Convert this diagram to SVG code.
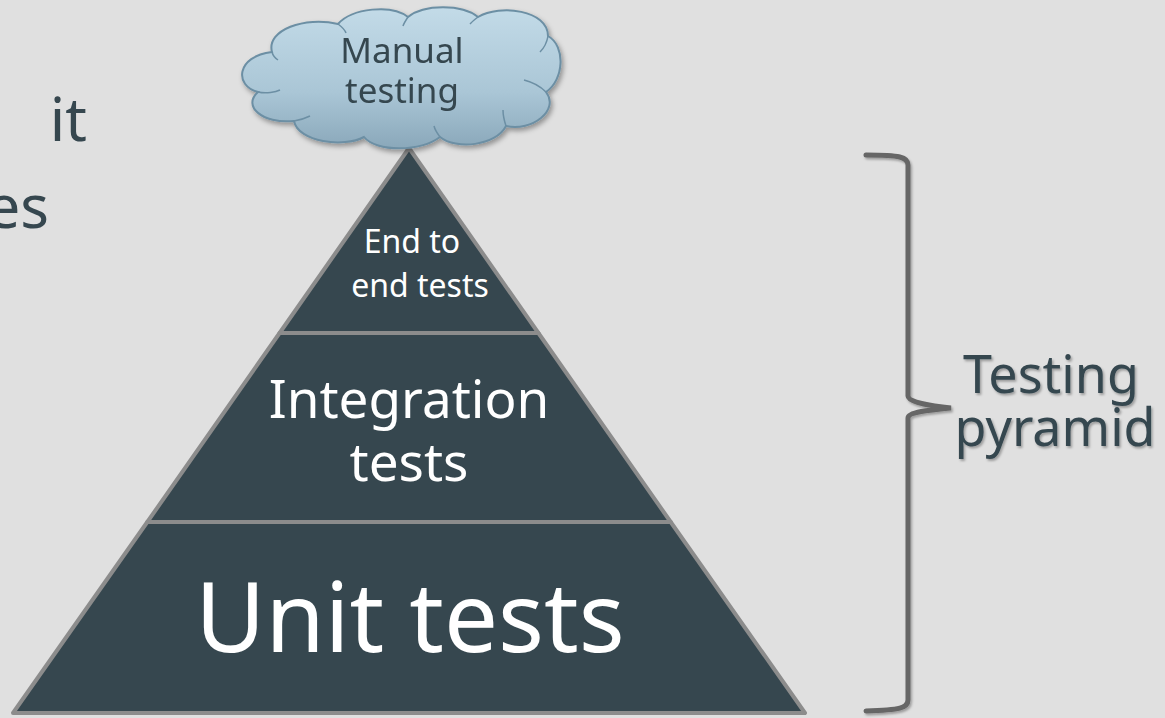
<svg xmlns="http://www.w3.org/2000/svg" width="1165" height="718" viewBox="0 0 1165 718">
<defs>
<linearGradient id="cloudGrad" x1="0" y1="0" x2="0" y2="1">
<stop offset="0" stop-color="#c3dbe8"/>
<stop offset="0.6" stop-color="#aac6d6"/>
<stop offset="1" stop-color="#8aa8ba"/>
</linearGradient>
<filter id="shadow" x="-20%" y="-20%" width="140%" height="140%">
<feDropShadow dx="2" dy="3" stdDeviation="2.5" flood-color="#000" flood-opacity="0.35"/>
</filter>
<filter id="tshadow" x="-10%" y="-10%" width="120%" height="130%">
<feDropShadow dx="1.5" dy="2" stdDeviation="1.2" flood-color="#000" flood-opacity="0.3"/>
</filter>
</defs>
<style>
.layer{fill:#36474f;stroke:#8c8c8c;stroke-width:4;stroke-linejoin:round}
.wt{fill:#ffffff;font-family:"Noto Sans","Open Sans",sans-serif;text-anchor:middle}
.dt{fill:#36474f;font-family:"Noto Sans","Open Sans",sans-serif}
.crease{fill:none;stroke:#6c8fa4;stroke-width:1.5}
</style>
<rect x="0" y="0" width="1165" height="718" fill="#e0e0e0"/>

<g id="side-text">
<text class="dt" x="87" y="141" font-size="60" text-anchor="end">it</text>
<text class="dt" x="49" y="228" font-size="60" text-anchor="end">es</text>
</g>

<g id="unit-tests">
<polygon class="layer" points="147.3,522 670.7,522 805,713 13,713"/>
<text class="wt" x="410" y="652" font-size="96">Unit tests</text>
</g>

<g id="integration-tests">
<polygon class="layer" points="279.6,333 538.4,333 670.7,522 147.3,522"/>
<text class="wt" x="409" y="418" font-size="53">Integration</text>
<text class="wt" x="409" y="481" font-size="53">tests</text>
</g>

<g id="end-to-end-tests">
<polygon class="layer" points="409,148 538.4,333 279.6,333"/>
<text class="wt" x="412" y="253" font-size="32">End to</text>
<text class="wt" x="420" y="297" font-size="32">end tests</text>
</g>

<g id="manual-testing" filter="url(#shadow)">
<path fill="url(#cloudGrad)" stroke="#6c8fa4" stroke-width="2" d="M272,52 C266,30 305,16 338,24 C352,8 392,4 408,17 C424,4 462,4 478,17 C500,4 548,10 548,36 C566,46 564,80 546,92 C560,110 532,132 506,126 C496,146 456,150 440,137 C420,152 376,152 364,137 C344,148 298,142 294,121 C262,124 242,106 258,92 C234,86 236,56 272,52 Z"/>
<path class="crease" d="M258,92 C266,94 276,92 280,90"/>
<path class="crease" d="M272,52 C273,56 275,58 278,60"/>
<path class="crease" d="M338,24 C342,27 345,30 346,33"/>
<path class="crease" d="M408,17 C406,20 404,23 403,26"/>
<path class="crease" d="M478,17 C475,19 472,22 470,24"/>
<path class="crease" d="M548,36 C547,42 544,48 540,52"/>
<path class="crease" d="M546,92 C540,86 532,82 524,80"/>
<path class="crease" d="M506,126 C504,120 503,115 503,110"/>
<path class="crease" d="M440,137 C437,133 435,130 434,126"/>
<path class="crease" d="M294,121 C300,120 306,118 310,116"/>
<text class="dt" x="402" y="63" font-size="35" text-anchor="middle">Manual</text>
<text class="dt" x="402" y="103" font-size="35" text-anchor="middle">testing</text>
</g>

<g id="connectors">
<path id="bracket" fill="none" stroke="#666666" stroke-width="5" stroke-linecap="round" filter="url(#tshadow)" d="M866,155 C900,155 908,157 908,165 L908,396 C908,402 930,406 951,408 C930,410 908,412 908,418 L908,700 C908,708 900,710 866,711"/>
</g>

<g id="testing-pyramid" filter="url(#tshadow)">
<text class="dt" x="1051" y="393" font-size="52" text-anchor="middle">Testing</text>
<text class="dt" x="1055" y="446" font-size="52" text-anchor="middle">pyramid</text>
</g>
</svg>
